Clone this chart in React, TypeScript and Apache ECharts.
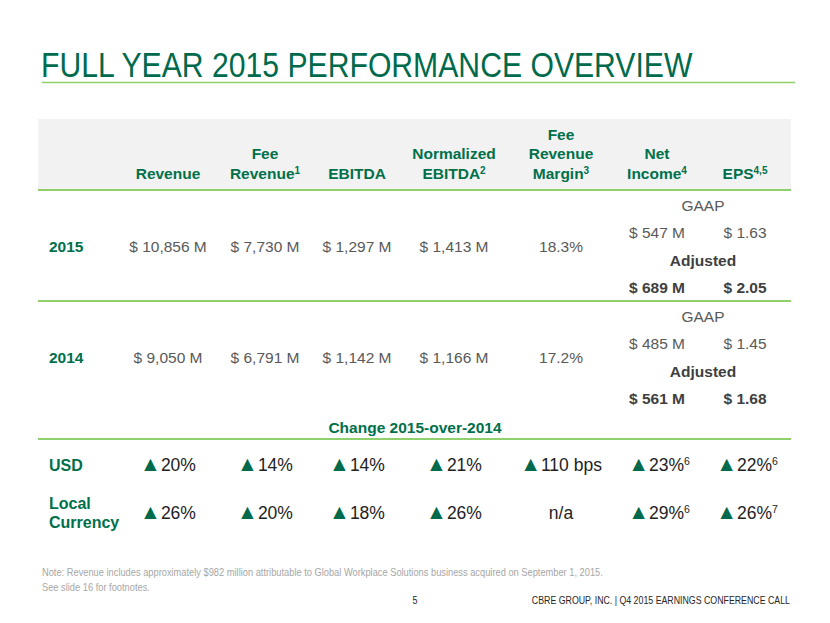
import React, { useEffect, useRef } from 'react';
import * as echarts from 'echarts';

const TITLE = 'FULL YEAR 2015 PERFORMANCE OVERVIEW';
const headerLines: string[][] = [
  ['Revenue'],
  ['Fee', 'Revenue'],
  ['EBITDA'],
  ['Normalized', 'EBITDA'],
  ['Fee', 'Revenue', 'Margin'],
  ['Net', 'Income'],
  ['EPS'],
];
const headerNotes = ['', '1', '', '2', '3', '4', '4,5'];
const years = ['2015', '2014'];
const yearValues: string[][] = [
  ['$ 10,856 M', '$ 7,730 M', '$ 1,297 M', '$ 1,413 M', '18.3%'],
  ['$ 9,050 M', '$ 6,791 M', '$ 1,142 M', '$ 1,166 M', '17.2%'],
];
const gaapValues: string[][] = [
  ['$ 547 M', '$ 1.63'],
  ['$ 485 M', '$ 1.45'],
];
const adjustedValues: string[][] = [
  ['$ 689 M', '$ 2.05'],
  ['$ 561 M', '$ 1.68'],
];
const changeTitle = 'Change 2015-over-2014';
const changeRows = ['USD', 'Local Currency'];
const changeValues: string[][] = [
  ['20%', '14%', '14%', '21%', '110 bps', '23%', '22%'],
  ['26%', '20%', '18%', '26%', 'n/a', '29%', '26%'],
];
const changeUp: boolean[][] = [
  [true, true, true, true, true, true, true],
  [true, true, true, true, false, true, true],
];
const changeNotes: string[][] = [
  ['', '', '', '', '', '6', '6'],
  ['', '', '', '', '', '6', '7'],
];
const NOTE_LINE_1 =
  'Note: Revenue includes approximately $982 million attributable to Global Workplace Solutions business acquired on September 1, 2015.';
const NOTE_LINE_2 = 'See slide 16 for footnotes.';
const PAGE_NUM = '5';
const FOOTER = 'CBRE GROUP, INC. | Q4 2015 EARNINGS CONFERENCE CALL';

const FONT = "'Liberation Sans', Arial, sans-serif";
const GREEN = '#00704A';
const LIGHT_GREEN = '#8FD06C';
const GRAY = '#595959';
const DARK = '#404040';
const BLACK = '#222222';

const colX = [168, 265, 357, 454, 561, 657, 745];
const netX = 657;
const epsX = 745;
const pairCenter = 703;

function txt(x: number, y: number, text: string, o: any = {}) {
  return {
    type: 'text',
    x,
    y,
    scaleX: o.scaleX || 1,
    silent: true,
    style: {
      text,
      fill: o.fill || GRAY,
      fontFamily: o.fontFamily || FONT,
      fontSize: o.fontSize || 15.5,
      fontWeight: o.fontWeight || 'normal',
      textAlign: o.align || 'center',
      textVerticalAlign: 'middle',
      rich: o.rich,
    },
  };
}

function buildElements() {
  const els: any[] = [];
  // title
  els.push(txt(41, 65, TITLE, { fill: '#006A4D', fontSize: 36, align: 'left', scaleX: 0.838 }));
  els.push({ type: 'line', silent: true, shape: { x1: 42, y1: 82.5, x2: 795, y2: 82.5 }, style: { stroke: LIGHT_GREEN, lineWidth: 1.5 } });

  // header band
  els.push({ type: 'rect', silent: true, shape: { x: 38, y: 119, width: 753, height: 71 }, style: { fill: '#F2F2F2' } });
  headerLines.forEach((lines, i) => {
    const n = lines.length;
    lines.forEach((line, j) => {
      const y = 173 - (n - 1 - j) * 19.5;
      const isLast = j === n - 1;
      const note = isLast ? headerNotes[i] : '';
      const text = note ? `{m|${line}}{s|${note}}` : `{m|${line}}`;
      els.push(
        txt(colX[i], y, text, {
          fill: GREEN,
          fontWeight: 'bold',
          rich: {
            m: { fontSize: 15.5, fontWeight: 'bold', fill: GREEN, fontFamily: FONT },
            s: { fontSize: 10, fontWeight: 'bold', fill: GREEN, fontFamily: FONT, verticalAlign: 'top' },
          },
        })
      );
    });
  });
  const lineY = [190, 301, 439];
  lineY.forEach((y) => {
    els.push({ type: 'line', silent: true, shape: { x1: 38, y1: y, x2: 791, y2: y }, style: { stroke: LIGHT_GREEN, lineWidth: 2 } });
  });

  // year rows
  const rowTop = [190, 301];
  years.forEach((yr, r) => {
    const t = rowTop[r];
    const cy = t + 56;
    els.push(txt(49, cy, yr, { fill: GREEN, fontWeight: 'bold', align: 'left' }));
    yearValues[r].forEach((v, i) => {
      els.push(txt(colX[i], cy, v, { fill: GRAY }));
    });
    els.push(txt(pairCenter, t + 15, 'GAAP', { fill: GRAY }));
    els.push(txt(netX, t + 42.5, gaapValues[r][0], { fill: GRAY }));
    els.push(txt(epsX, t + 42.5, gaapValues[r][1], { fill: GRAY }));
    els.push(txt(pairCenter, t + 70, 'Adjusted', { fill: DARK, fontWeight: 'bold' }));
    els.push(txt(netX, t + 97.5, adjustedValues[r][0], { fill: DARK, fontWeight: 'bold' }));
    els.push(txt(epsX, t + 97.5, adjustedValues[r][1], { fill: DARK, fontWeight: 'bold' }));
  });

  // change section
  els.push(txt(415, 427, changeTitle, { fill: GREEN, fontWeight: 'bold' }));
  const changeY = [465, 513];
  changeRows.forEach((label, r) => {
    const cy = changeY[r];
    if (label.indexOf(' ') > 0) {
      const parts = label.split(' ');
      els.push(txt(49, cy - 10, parts[0], { fill: GREEN, fontWeight: 'bold', fontSize: 16, align: 'left' }));
      els.push(txt(49, cy + 9, parts[1], { fill: GREEN, fontWeight: 'bold', fontSize: 16, align: 'left' }));
    } else {
      els.push(txt(49, cy, label, { fill: GREEN, fontWeight: 'bold', fontSize: 16, align: 'left' }));
    }
    changeValues[r].forEach((v, i) => {
      const up = changeUp[r][i];
      const note = changeNotes[r][i];
      let text = '';
      if (up) text += '{a|▲}';
      text += `{v|${v}}`;
      if (note) text += `{s|${note}}`;
      els.push(
        txt(colX[i] + (note ? 2 : 0), cy - (up ? 2 : 0), text, {
          fill: BLACK,
          fontSize: 17.5,
          rich: {
            a: { fontSize: 21, fill: '#006A4D', fontFamily: FONT, verticalAlign: 'bottom', padding: [0, 0, 0, 0] },
            v: { fontSize: 17.5, fill: BLACK, fontFamily: FONT, verticalAlign: 'bottom' },
            s: { fontSize: 10.5, fill: BLACK, fontFamily: FONT, verticalAlign: 'top', padding: [3, 0, 0, 0] },
          },
        })
      );
    });
  });

  // notes and footer
  els.push(txt(42, 572, NOTE_LINE_1, { fill: '#A6A6A6', fontSize: 11, align: 'left', scaleX: 0.845 }));
  els.push(txt(42, 587, NOTE_LINE_2, { fill: '#A6A6A6', fontSize: 11, align: 'left', scaleX: 0.845 }));
  els.push(txt(415, 600, PAGE_NUM, { fill: '#262626', fontSize: 11, align: 'center', scaleX: 0.82 }));
  els.push(txt(790, 600, FOOTER, { fill: '#262626', fontSize: 11, align: 'right', scaleX: 0.8 }));
  return els;
}

export default function App() {
  const ref = useRef<HTMLDivElement>(null);
  useEffect(() => {
    document.body.style.margin = '0';
    const chart = echarts.init(ref.current!, null, { renderer: 'svg' });
    chart.setOption({
      animation: false,
      backgroundColor: '#ffffff',
      graphic: { elements: buildElements() },
    });
    return () => chart.dispose();
  }, []);
  return <div ref={ref} style={{ width: 830, height: 623 }} />;
}
